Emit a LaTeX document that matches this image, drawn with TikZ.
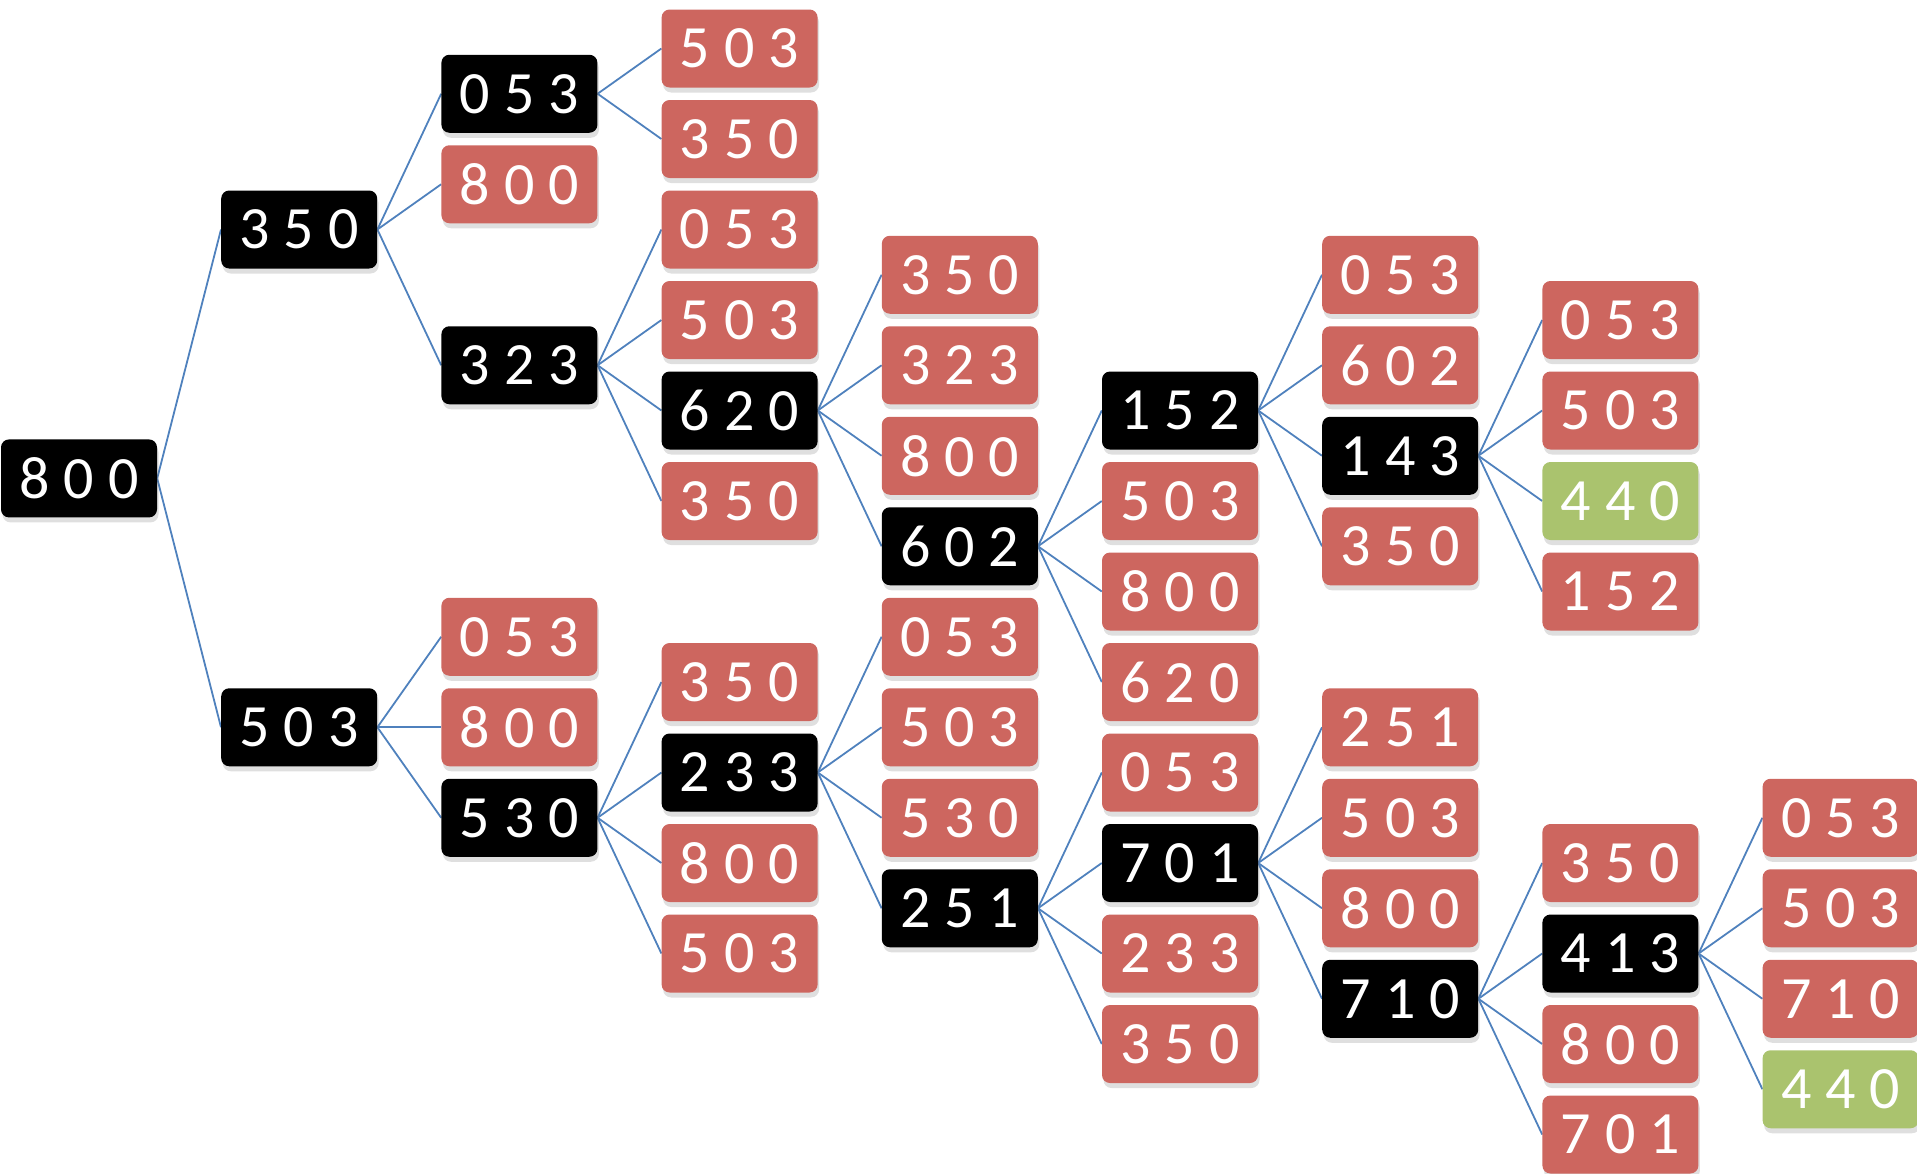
\documentclass[tikz,border=0pt]{standalone}
\usepackage{fontspec}
\setmainfont{Carlito}
\usetikzlibrary{shadows,backgrounds}
\definecolor{rd}{HTML}{CD665F}
\definecolor{gr}{HTML}{AAC36E}
\definecolor{ln}{HTML}{4F81BD}
\tikzset{
 box/.style={rectangle, rounded corners=8pt, minimum width=156pt, minimum height=78pt, inner sep=0pt, text=white, font=\fontsize{60}{62}\selectfont, drop shadow={shadow xshift=1.5pt, shadow yshift=-5pt, opacity=0.25}},
 kbox/.style={box, fill=black},
 rbox/.style={box, fill=rd},
 gbox/.style={box, fill=gr},
 conn/.style={draw=ln, line width=1.8pt}
}
\newcommand\dg[3]{#1\kern14pt#2\kern14pt#3}
\newcommand\nd[4]{\node[#3] (n#1-#2) at ({79+220.2*#1},{48.5+45.25*#2}) {\dg#4};}
\begin{document}
\begin{tikzpicture}[x=1pt,y=-1pt]
\useasboundingbox (0,0) rectangle (1917,1173);
\node[kbox] (nr) at (79,478.4) {\dg800};
% col 1
\nd{1}{4}{kbox}{350}
\nd{1}{15}{kbox}{503}
% col 2
\nd{2}{1}{kbox}{053}
\nd{2}{3}{rbox}{800}
\nd{2}{7}{kbox}{323}
\nd{2}{13}{rbox}{053}
\nd{2}{15}{rbox}{800}
\nd{2}{17}{kbox}{530}
% col 3
\nd{3}{0}{rbox}{503}
\nd{3}{2}{rbox}{350}
\nd{3}{4}{rbox}{053}
\nd{3}{6}{rbox}{503}
\nd{3}{8}{kbox}{620}
\nd{3}{10}{rbox}{350}
\nd{3}{14}{rbox}{350}
\nd{3}{16}{kbox}{233}
\nd{3}{18}{rbox}{800}
\nd{3}{20}{rbox}{503}
% col 4
\nd{4}{5}{rbox}{350}
\nd{4}{7}{rbox}{323}
\nd{4}{9}{rbox}{800}
\nd{4}{11}{kbox}{602}
\nd{4}{13}{rbox}{053}
\nd{4}{15}{rbox}{503}
\nd{4}{17}{rbox}{530}
\nd{4}{19}{kbox}{251}
% col 5
\nd{5}{8}{kbox}{152}
\nd{5}{10}{rbox}{503}
\nd{5}{12}{rbox}{800}
\nd{5}{14}{rbox}{620}
\nd{5}{16}{rbox}{053}
\nd{5}{18}{kbox}{701}
\nd{5}{20}{rbox}{233}
\nd{5}{22}{rbox}{350}
% col 6
\nd{6}{5}{rbox}{053}
\nd{6}{7}{rbox}{602}
\nd{6}{9}{kbox}{143}
\nd{6}{11}{rbox}{350}
\nd{6}{15}{rbox}{251}
\nd{6}{17}{rbox}{503}
\nd{6}{19}{rbox}{800}
\nd{6}{21}{kbox}{710}
% col 7
\nd{7}{6}{rbox}{053}
\nd{7}{8}{rbox}{503}
\nd{7}{10}{gbox}{440}
\nd{7}{12}{rbox}{152}
\nd{7}{18}{rbox}{350}
\nd{7}{20}{kbox}{413}
\nd{7}{22}{rbox}{800}
\nd{7}{24}{rbox}{701}
% col 8
\nd{8}{17}{rbox}{053}
\nd{8}{19}{rbox}{503}
\nd{8}{21}{rbox}{710}
\nd{8}{23}{gbox}{440}
\begin{scope}[on background layer]
\foreach \a/\b in {r/1-4, r/1-15,
 1-4/2-1, 1-4/2-3, 1-4/2-7,
 2-1/3-0, 2-1/3-2,
 2-7/3-4, 2-7/3-6, 2-7/3-8, 2-7/3-10,
 3-8/4-5, 3-8/4-7, 3-8/4-9, 3-8/4-11,
 4-11/5-8, 4-11/5-10, 4-11/5-12, 4-11/5-14,
 5-8/6-5, 5-8/6-7, 5-8/6-9, 5-8/6-11,
 6-9/7-6, 6-9/7-8, 6-9/7-10, 6-9/7-12,
 1-15/2-13, 1-15/2-15, 1-15/2-17,
 2-17/3-14, 2-17/3-16, 2-17/3-18, 2-17/3-20,
 3-16/4-13, 3-16/4-15, 3-16/4-17, 3-16/4-19,
 4-19/5-16, 4-19/5-18, 4-19/5-20, 4-19/5-22,
 5-18/6-15, 5-18/6-17, 5-18/6-19, 5-18/6-21,
 6-21/7-18, 6-21/7-20, 6-21/7-22, 6-21/7-24,
 7-20/8-17, 7-20/8-19, 7-20/8-21, 7-20/8-23}
 \draw[conn] (n\a.east) -- (n\b.west);
\end{scope}
\end{tikzpicture}
\end{document}
